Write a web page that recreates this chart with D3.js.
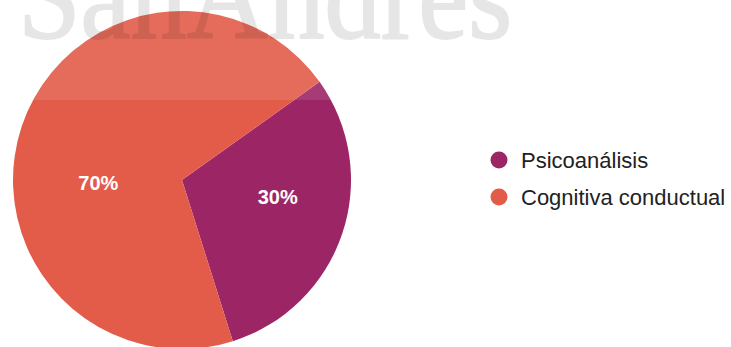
<!DOCTYPE html>
<html>
<head>
<meta charset="utf-8">
<script src="https://cdn.jsdelivr.net/npm/d3@7"></script>
<style>
  html, body { margin: 0; padding: 0; background: #fff; }
  svg { display: block; }
</style>
</head>
<body>
<svg id="chart" width="731" height="347"></svg>
<script>
// Survey answers: preferred therapeutic approach
const categories = ["Psicoanálisis", "Cognitiva conductual"];
const values = [30, 70];
const colors = ["#9c2566", "#e35c49"];

const width = 731, height = 347;
const cx = 182, cy = 180, radius = 169;
const startDeg = 54.5;          // first slice begins here, clockwise from 12 o'clock
const labelTurnDeg = -14;       // percentage labels sit a little counter-clockwise of the slice middle
const labelRadius = 90;
const labelShift = [6, 10];     // small nudge of the label ring below/right of the pie centre

const svg = d3.select("#chart");

const pie = d3.pie()
  .sort(null)
  .value(d => d.value)
  .startAngle(startDeg * Math.PI / 180)
  .endAngle((startDeg + 360) * Math.PI / 180);

const data = categories.map((c, i) => ({ name: c, value: values[i], color: colors[i] }));
const arcs = pie(data);
const total = d3.sum(values);

const arc = d3.arc().innerRadius(0).outerRadius(radius);

const g = svg.append("g").attr("transform", `translate(${cx},${cy})`);

g.selectAll("path.slice")
  .data(arcs)
  .join("path")
  .attr("class", "slice")
  .attr("d", arc)
  .attr("fill", d => d.data.color);

// percentage labels inside each slice
const labelAngle = d => (d.startAngle + d.endAngle) / 2 + labelTurnDeg * Math.PI / 180;
g.selectAll("text.pct")
  .data(arcs)
  .join("text")
  .attr("class", "pct")
  .attr("x", d => labelShift[0] + labelRadius * Math.sin(labelAngle(d)))
  .attr("y", d => labelShift[1] - labelRadius * Math.cos(labelAngle(d)))
  .attr("text-anchor", "middle")
  .attr("dominant-baseline", "central")
  .attr("font-family", "Liberation Sans, Arial, sans-serif")
  .attr("font-weight", "bold")
  .attr("font-size", 20)
  .attr("fill", "#fff")
  .text(d => Math.round(d.data.value / total * 100) + "%");

// legend
const legend = svg.append("g").attr("transform", "translate(499,160)");
const rowH = 37;
const items = legend.selectAll("g.item")
  .data(data)
  .join("g")
  .attr("class", "item")
  .attr("transform", (d, i) => `translate(0,${i * rowH})`);

items.append("circle")
  .attr("r", 8.5)
  .attr("fill", d => d.color);

items.append("text")
  .attr("x", 22)
  .attr("y", 8)
  .attr("font-family", "Liberation Sans, Arial, sans-serif")
  .attr("font-size", 22)
  .attr("fill", "#222")
  .text(d => d.name);

// faint band and watermark across the top
svg.append("rect")
  .attr("x", 0).attr("y", 0)
  .attr("width", width).attr("height", 100)
  .attr("fill", "#fff")
  .attr("opacity", 0.1);

svg.append("text")
  .attr("x", 18)
  .attr("y", 38)
  .attr("textLength", 494)
  .attr("lengthAdjust", "spacingAndGlyphs")
  .attr("font-family", "Liberation Serif, Times New Roman, serif")
  .attr("font-size", 124)
  .attr("fill", "#000")
  .attr("stroke", "#000")
  .attr("stroke-width", 2)
  .attr("stroke-linejoin", "round")
  .attr("opacity", 0.095)
  .text("SanAndres");
</script>
</body>
</html>
